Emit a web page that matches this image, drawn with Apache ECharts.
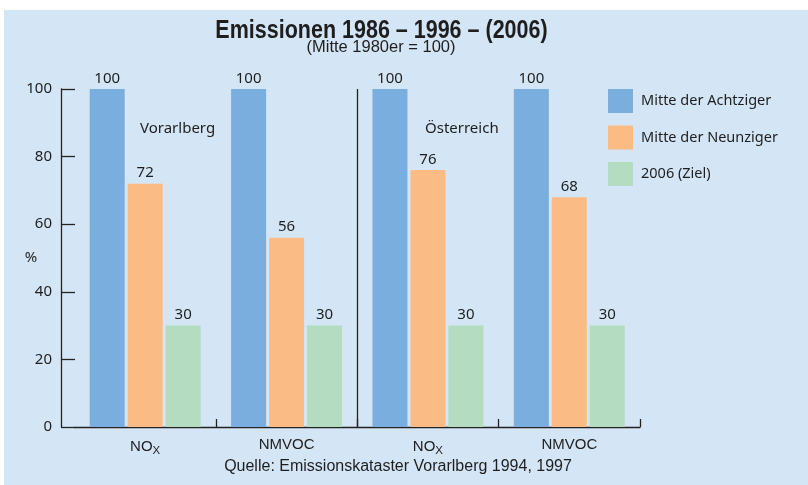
<!DOCTYPE html>
<html>
<head>
<meta charset="utf-8">
<script src="https://cdn.jsdelivr.net/npm/echarts@6/dist/echarts.min.js"></script>
<style>
  html, body { margin: 0; padding: 0; background: #ffffff; }
  #chart { width: 808px; height: 485px; }
</style>
</head>
<body>
<div id="chart"></div>
<script>
// Emission indices (mid-1980s = 100) for Vorarlberg and Austria
const categories = ['NOx', 'NMVOC', 'NOx', 'NMVOC'];
const seriesNames = ['Mitte der Achtziger', 'Mitte der Neunziger', '2006 (Ziel)'];
const achtziger = [100, 100, 100, 100];
const neunziger = [72, 56, 76, 68];
const ziel = [30, 30, 30, 30];
const yTicks = [0, 20, 40, 60, 80, 100];
const regions = ['Vorarlberg', 'Österreich'];

const colors = ['#7aaede', '#fbbb85', '#b4dcc0'];
const textColor = '#1e1e1e';
const axisColor = '#222222';
const bodyFont = '"Noto Sans"';
const narrowFont = '"Liberation Sans", sans-serif';

const chart = echarts.init(document.getElementById('chart'), null, { renderer: 'canvas' });

function barSeries(name, data, color) {
  return {
    name: name,
    type: 'bar',
    data: data,
    barWidth: 35,
    barGap: '8.5%',
    itemStyle: { color: color },
    label: {
      show: true,
      position: 'top',
      distance: 3,
      color: textColor,
      fontFamily: 'Noto Sans',
      fontSize: 15
    }
  };
}

const option = {
  backgroundColor: '#ffffff',
  animation: false,
  legend: {
    orient: 'vertical',
    left: 608,
    top: 89,
    padding: 0,
    icon: 'rect',
    itemWidth: 25,
    itemHeight: 24,
    itemGap: 12.5,
    data: seriesNames,
    textStyle: { fontFamily: 'Noto Sans', fontSize: 14.5, color: textColor, padding: [0, 0, 0, 3] }
  },
  grid: { left: 74.5, right: 168, top: 89, bottom: 58 },
  xAxis: {
    type: 'category',
    data: categories,
    axisLine: { lineStyle: { color: axisColor, width: 1.3 } },
    axisTick: {
      show: true,
      inside: true,
      length: 8,
      interval: function (index) { return index !== 0; },
      lineStyle: { color: axisColor, width: 1.3 }
    },
    splitLine: { show: false },
    axisLabel: {
      margin: 10,
      interval: 0,
      formatter: function (v) {
        return v === 'NOx' ? '{m|NO}{s|X}' : '{m|' + v + '}';
      },
      rich: {
        m: { fontFamily: 'Liberation Sans', fontSize: 15, color: textColor },
        s: { fontFamily: 'Liberation Sans', fontSize: 11.5, color: textColor, padding: [8, 0, 0, 0] }
      }
    }
  },
  yAxis: {
    type: 'value',
    min: yTicks[0],
    max: yTicks[yTicks.length - 1],
    interval: 20,
    offset: 13.5,
    axisLine: { show: true, lineStyle: { color: axisColor, width: 1.3 } },
    axisTick: { show: true, inside: true, length: 14, lineStyle: { color: axisColor, width: 1.3 } },
    splitLine: { show: false },
    axisLabel: { margin: 9, fontFamily: 'Noto Sans', fontSize: 15, color: textColor }
  },
  graphic: [
    {
      id: 'panel',
      type: 'rect',
      z: -10,
      silent: true,
      shape: { x: 4, y: 10, width: 804, height: 475 },
      style: { fill: '#d4e5f5' }
    },
    {
      // chart title, drawn condensed
      id: 'title',
      type: 'text',
      x: 381.5,
      y: 31,
      scaleX: 0.86,
      style: {
        text: 'Emissionen 1986 – 1996 – (2006)',
        fill: textColor,
        font: 'bold 25px ' + narrowFont,
        align: 'center',
        verticalAlign: 'middle'
      }
    },
    {
      id: 'subtitle',
      type: 'text',
      x: 381,
      y: 47.5,
      style: {
        text: '(Mitte 1980er = 100)',
        fill: textColor,
        font: '16.5px ' + narrowFont,
        align: 'center',
        verticalAlign: 'middle'
      }
    },
    {
      id: 'unit',
      type: 'text',
      x: 31,
      y: 258,
      style: {
        text: '%',
        fill: textColor,
        font: '15px ' + bodyFont,
        align: 'center',
        verticalAlign: 'middle'
      }
    },
    {
      id: 'region0',
      type: 'text',
      left: 140,
      top: 121,
      style: { text: regions[0], fill: textColor, font: '15px ' + bodyFont }
    },
    {
      id: 'region1',
      type: 'text',
      left: 425,
      top: 121,
      style: { text: regions[1], fill: textColor, font: '15px ' + bodyFont }
    },
    {
      id: 'source',
      type: 'text',
      x: 398,
      y: 467,
      style: {
        text: 'Quelle: Emissionskataster Vorarlberg 1994, 1997',
        fill: textColor,
        font: '16px ' + narrowFont,
        align: 'center',
        verticalAlign: 'middle'
      }
    }
  ],
  series: [
    barSeries(seriesNames[0], achtziger, colors[0]),
    barSeries(seriesNames[1], neunziger, colors[1]),
    barSeries(seriesNames[2], ziel, colors[2])
  ]
};

chart.setOption(option);

// Divider between the Vorarlberg and Austria groups, placed from the axis scales
const c1 = chart.convertToPixel({ xAxisIndex: 0 }, 1);
const c2 = chart.convertToPixel({ xAxisIndex: 0 }, 2);
const yTop = chart.convertToPixel({ yAxisIndex: 0 }, yTicks[yTicks.length - 1]);
const yBottom = chart.convertToPixel({ yAxisIndex: 0 }, yTicks[0]);
const xSep = Math.round((c1 + c2) / 2) + 0.5;
chart.setOption({
  graphic: [
    {
      id: 'divider',
      type: 'line',
      silent: true,
      z: 5,
      shape: { x1: xSep, y1: yTop, x2: xSep, y2: yBottom },
      style: { stroke: axisColor, lineWidth: 1.3 }
    }
  ]
});
</script>
</body>
</html>
